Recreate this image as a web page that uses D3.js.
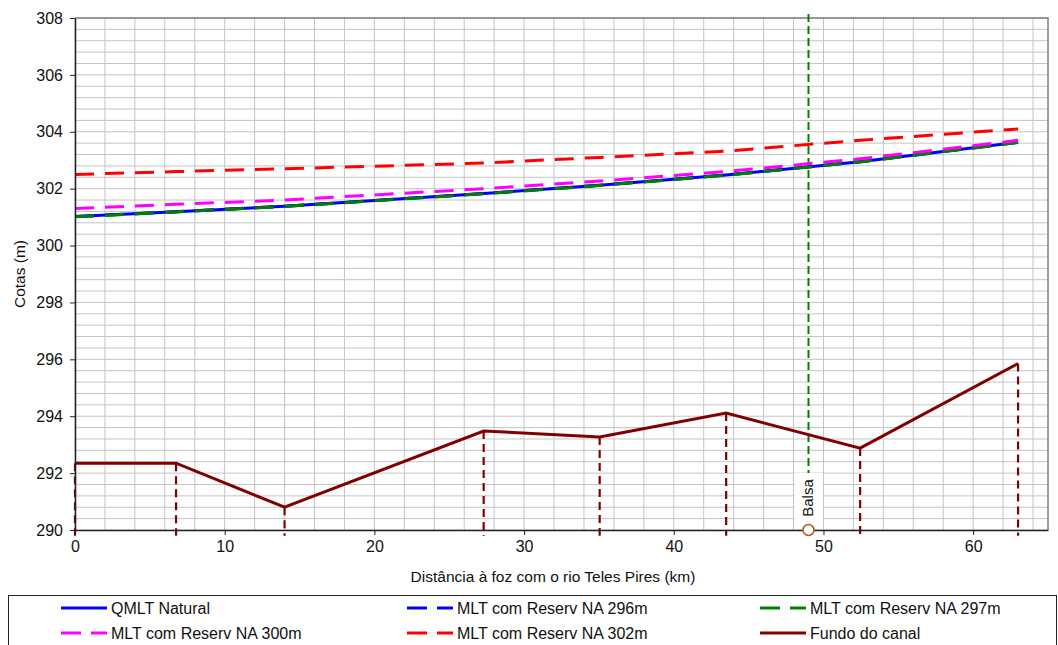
<!DOCTYPE html>
<html>
<head>
<meta charset="utf-8">
<script src="https://cdn.jsdelivr.net/npm/d3@7"></script>
<style>
  body { margin: 0; background: #fff; }
  svg { display: block; font-family: "Liberation Sans", Arial, sans-serif; }
  .grid line { stroke: #c4c4c4; stroke-width: 1; }
  .axis text { font-size: 16px; fill: #111; }
  .axis path, .axis line { stroke: #222; }
</style>
</head>
<body>
<div id="chart"></div>
<script>
// distances along the river (km)
var distKm = [0, 6.75, 14, 27.3, 35.05, 43.5, 52.45, 63];

// water levels (m)
var qmltNatural = [301.02, 301.19, 301.38, 301.83, 302.12, 302.48, 302.95, 303.63];
var na296 = [301.02, 301.19, 301.38, 301.83, 302.12, 302.48, 302.95, 303.63];
var na297 = [301.01, 301.18, 301.37, 301.82, 302.11, 302.47, 302.94, 303.62];
var na300 = [301.30, 301.45, 301.60, 302.00, 302.27, 302.60, 303.05, 303.70];
var na302 = [302.50, 302.60, 302.70, 302.90, 303.10, 303.32, 303.70, 304.10];
var fundoCanal = [292.35, 292.35, 290.80, 293.48, 293.27, 294.11, 292.88, 295.85];

var balsaKm = 49;
var balsaLabel = "Balsa";

var xTicks = [0, 10, 20, 30, 40, 50, 60];
var yTicks = [290, 292, 294, 296, 298, 300, 302, 304, 306, 308];

var series = [
    { name: "QMLT Natural", values: qmltNatural, color: "#0000ff", dash: null },
    { name: "MLT com Reserv NA 296m", values: na296, color: "#0000ff", dash: "19,11" },
    { name: "MLT com Reserv NA 297m", values: na297, color: "#008000", dash: "19,11" },
    { name: "MLT com Reserv NA 300m", values: na300, color: "#ff00ff", dash: "19,11" },
    { name: "MLT com Reserv NA 302m", values: na302, color: "#ff0000", dash: "19,11" },
    { name: "Fundo do canal", values: fundoCanal, color: "#800000", dash: null }
];

var W = 1058, H = 645;
var plot = { left: 75, right: 1048, top: 18, bottom: 530 };

var svg = d3.select("#chart").append("svg")
    .attr("width", W)
    .attr("height", H);

var xScale = d3.scaleLinear().domain([0, 65]).range([plot.left, plot.right]);
var yScale = d3.scaleLinear().domain([290, 308]).range([plot.bottom, plot.top]);

// grid lines - every 2 km and every 0.4 m
var gx = d3.range(0, 65.01, 2);
var gy = d3.range(0, 46).map(function (i) { return 290 + i * 0.4; });

var grid = svg.append("g").attr("class", "grid");
grid.selectAll(".gv").data(gx).enter().append("line")
    .attr("x1", function (d) { return xScale(d); })
    .attr("x2", function (d) { return xScale(d); })
    .attr("y1", plot.top).attr("y2", plot.bottom);
grid.selectAll(".gh").data(gy).enter().append("line")
    .attr("x1", plot.left).attr("x2", plot.right)
    .attr("y1", function (d) { return yScale(d); })
    .attr("y2", function (d) { return yScale(d); });

// top / right frame
svg.append("path")
    .attr("d", "M" + plot.left + "," + plot.top + "H" + plot.right + "V" + plot.bottom)
    .attr("fill", "none").attr("stroke", "#808080").attr("stroke-width", 1.5);

// drop lines from the channel bottom points
svg.append("g").selectAll("line").data(distKm).enter().append("line")
    .attr("x1", function (d) { return xScale(d); })
    .attr("x2", function (d) { return xScale(d); })
    .attr("y1", function (d, i) { return yScale(fundoCanal[i]); })
    .attr("y2", yScale(289.8))
    .attr("stroke", "#800000").attr("stroke-width", 2.2)
    .attr("stroke-dasharray", "8,5");

// Balsa marker line
svg.append("line")
    .attr("x1", xScale(balsaKm)).attr("x2", xScale(balsaKm))
    .attr("y1", yScale(308.14)).attr("y2", yScale(292.0))
    .attr("stroke", "#008000").attr("stroke-width", 2)
    .attr("stroke-dasharray", "8,4");

var lineGen = d3.line()
    .x(function (d, i) { return xScale(distKm[i]); })
    .y(function (d) { return yScale(d); });

svg.append("g").selectAll("path").data(series).enter().append("path")
    .attr("d", function (s) { return lineGen(s.values); })
    .attr("fill", "none")
    .attr("stroke", function (s) { return s.color; })
    .attr("stroke-width", 3)
    .attr("stroke-dasharray", function (s) { return s.dash; });

// axes
svg.append("g")
    .attr("class", "axis")
    .attr("transform", "translate(0," + plot.bottom + ")")
    .call(d3.axisBottom(xScale).tickValues(xTicks).tickSize(5).tickPadding(6).tickSizeOuter(0))
    .call(function (g) { g.select(".domain").attr("stroke-width", 1.5); });

svg.append("g")
    .attr("class", "axis")
    .attr("transform", "translate(" + plot.left + ",0)")
    .call(d3.axisLeft(yScale).tickValues(yTicks).tickSize(5).tickPadding(7).tickSizeOuter(0))
    .call(function (g) { g.select(".domain").attr("stroke-width", 1.5); });

// Balsa label + marker
var bx = xScale(balsaKm);
svg.append("rect")
    .attr("x", bx - 14).attr("y", 473)
    .attr("width", 28).attr("height", 51)
    .attr("fill", "#fff");
svg.append("text")
    .attr("transform", "translate(" + (bx + 5) + ",498) rotate(-90)")
    .attr("text-anchor", "middle")
    .attr("font-size", 15)
    .attr("fill", "#111")
    .text(balsaLabel);
svg.append("circle")
    .attr("cx", bx).attr("cy", yScale(290))
    .attr("r", 5.5)
    .attr("fill", "#fff").attr("stroke", "#b5561d").attr("stroke-width", 1.5);

// axis titles
svg.append("text")
    .attr("transform", "translate(25," + ((plot.top + plot.bottom) / 2) + ") rotate(-90)")
    .attr("text-anchor", "middle")
    .attr("font-size", 15.5)
    .attr("fill", "#111")
    .text("Cotas (m)");

svg.append("text")
    .attr("x", 553).attr("y", 582)
    .attr("text-anchor", "middle")
    .attr("font-size", 15.5)
    .attr("fill", "#111")
    .text("Distância à foz com o rio Teles Pires (km)");

// legend
svg.append("rect")
    .attr("x", 8.5).attr("y", 595.5)
    .attr("width", 1048).attr("height", 70)
    .attr("fill", "none").attr("stroke", "#222").attr("stroke-width", 1);

var legendOrder = [0, 1, 2, 3, 4, 5];
var colX = [61, 407, 760];
var rowY = [608, 633];

var leg = svg.append("g").selectAll("g").data(legendOrder).enter().append("g")
    .attr("transform", function (d, i) {
        return "translate(" + colX[i % 3] + "," + rowY[Math.floor(i / 3)] + ")";
    });
leg.append("line")
    .attr("x1", 0).attr("x2", 46)
    .attr("stroke", function (d) { return series[d].color; })
    .attr("stroke-width", 3)
    .attr("stroke-dasharray", function (d) { return series[d].dash ? "20,10" : null; });
leg.append("text")
    .attr("x", 50).attr("dy", "0.35em")
    .attr("font-size", 16)
    .attr("fill", "#111")
    .text(function (d) { return series[d].name; });
</script>
</body>
</html>
